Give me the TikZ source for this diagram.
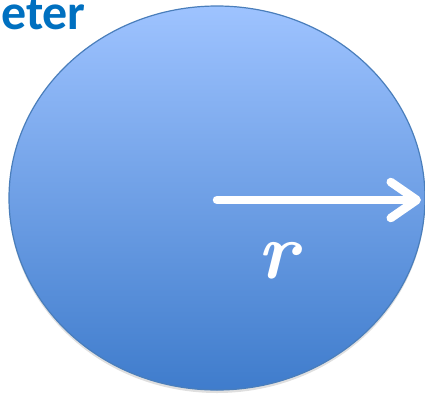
\documentclass[tikz,border=0pt]{standalone}
\usepackage{fontspec}
\setmainfont{Carlito}
\newfontfamily\varfont{Latin Modern Roman}
\usetikzlibrary{shapes.geometric,arrows.meta,shadows}
\definecolor{titleblue}{HTML}{0070C0}
\definecolor{discTop}{HTML}{9EC3FF}
\definecolor{discBottom}{HTML}{3F7CCC}
\definecolor{discEdge}{HTML}{4A7EBB}
\tikzstyle{disc} = [ellipse, draw=discEdge, line width=1.2pt, top color=discTop, bottom color=discBottom, inner sep=0pt, drop shadow={shadow xshift=0pt, shadow yshift=-3pt, opacity=0.25}]
\tikzstyle{radius} = [white, line width=8.5pt, line cap=round, -{Straight Barb[length=26pt, width=36pt, line cap=round, line join=round]}]

\begin{document}
\begin{tikzpicture}[x=1pt, y=-1pt]
        \useasboundingbox (0,0) rectangle (425,394);
        % disc and its radius
        \node (disc) [disc, minimum width=416pt, minimum height=384pt] at (217,198) {};
        \coordinate (c) at (217,200);
        \coordinate (e) at (421,200);
        \draw [radius] (c) -- (e);
        \node (r) [white, anchor=base, inner sep=0pt] at (278,278) {\fontsize{80}{80}\selectfont\varfont\bfseries\itshape r};
        % cropped title
        \node (title) [anchor=base west, inner sep=0pt, text=titleblue] at (1,29) {\fontsize{50}{50}\selectfont\bfseries eter};
    \end{tikzpicture}
\end{document}
